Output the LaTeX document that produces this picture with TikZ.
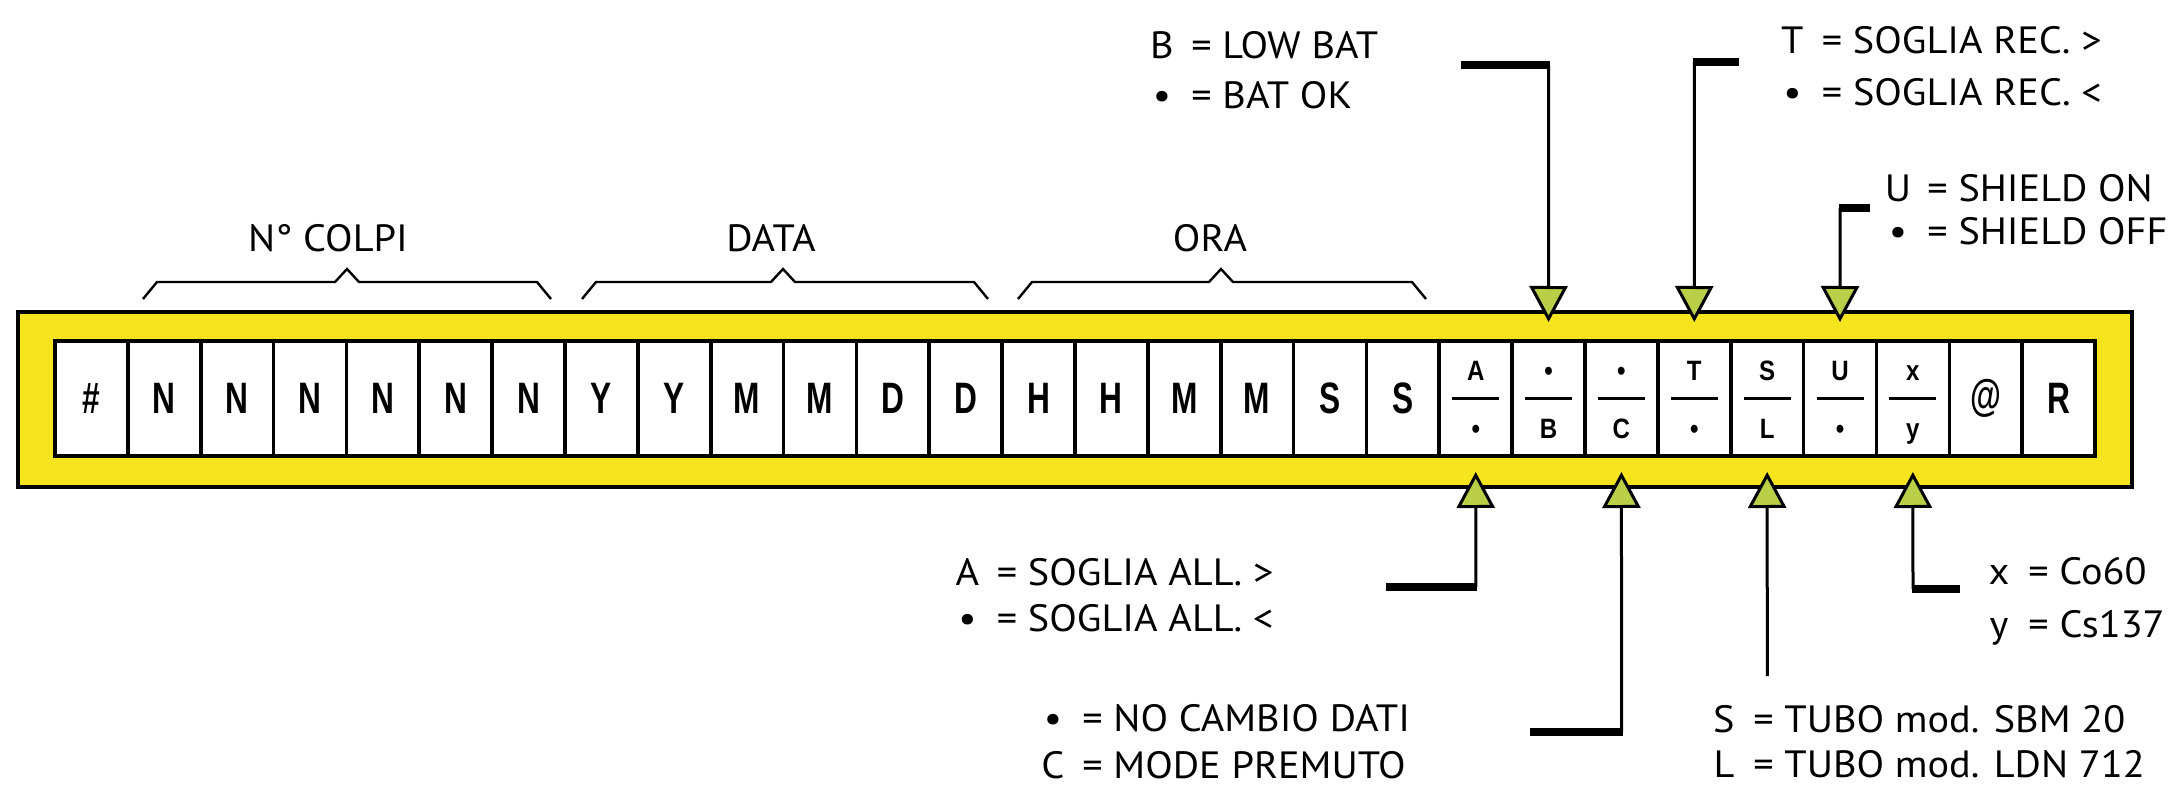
\documentclass[tikz,border=0pt]{standalone}
\usepackage{fontspec}
\setmainfont{PT Sans}[FakeStretch=1.06]
\newfontfamily\cellfont{Liberation Sans}[FakeStretch=0.72]
\newfontfamily\smallfont{Liberation Sans}[FakeStretch=0.86]
\usetikzlibrary{arrows.meta}
\definecolor{yel}{RGB}{245,228,30}
\definecolor{tri}{RGB}{186,206,72}
\newcommand{\lcbox}[1]{\makebox[12.5pt][c]{#1}\hspace{8.5pt}}
\newcommand{\dotc}{\textbullet}
\begin{document}
\begin{tikzpicture}[x=0.5pt,y=-0.5pt,
  lbl/.style={inner sep=0pt, anchor=base west, font=\fontsize{19}{19}\selectfont},
  ttl/.style={inner sep=0pt, anchor=base, font=\fontsize{19}{19}\selectfont},
  cellbox/.style={draw=black, line width=1.8pt, fill=white, minimum width=36.43pt, minimum height=57.5pt, inner sep=0pt, font=\cellfont\bfseries\fontsize{22}{22}\selectfont},
  small/.style={inner sep=0pt, anchor=base, font=\smallfont\bfseries\fontsize{14}{14}\selectfont},
  brace/.style={line width=1.2pt, line join=miter},
  stem/.style={line width=1.5pt, -{Triangle[width=19pt,length=18pt,fill=tri]}},
  bar/.style={line width=4pt, line cap=butt}]

\useasboundingbox (0,0) rectangle (2169,791);
\fill[white] (0,0) rectangle (2169,791);

% frame
\node[draw=black, line width=2pt, fill=yel, minimum width=1057pt, minimum height=87.5pt, inner sep=0pt] (frame) at (1075,399.5) {};

% plain cells
\foreach \t [count=\i from 0] in {\#,N,N,N,N,N,N,Y,Y,M,M,D,D,H,H,M,M,S,S} {
  \node[cellbox] (c\i) at ({55+72.857*(\i+0.5)},398.5) {\t};
}
% fraction cells
\foreach \tp/\bt [count=\i from 19] in {A/\dotc,\dotc/B,\dotc/C,T/\dotc,S/L,U/\dotc,x/y} {
  \node[cellbox] (c\i) at ({55+72.857*(\i+0.5)},398.5) {};
  \node[small] (t\i) at ([yshift=9.25pt]c\i.center) {\tp};
  \node[small] (b\i) at ([yshift=-19.75pt]c\i.center) {\bt};
  \draw[line width=1.4pt] ([xshift=-11.75pt]c\i.center) -- ([xshift=11.75pt]c\i.center);
}
\node[cellbox] (c26) at ({55+72.857*26.5},398.5) {@};
\node[cellbox] (c27) at ({55+72.857*27.5},398.5) {R};

% braces and titles
\draw[brace] (143,299) -- (157,282) -- (335,282) -- (347,269) -- (359,282) -- (537,282) -- (551,299);
\draw[brace] (582,299) -- (596,282) -- (771,282) -- (783,269) -- (795,282) -- (974,282) -- (988,299);
\draw[brace] (1018,299) -- (1032,282) -- (1209,282) -- (1221,269) -- (1233,282) -- (1412,282) -- (1426,299);
\node[ttl] (tN) at (328,252) {N° COLPI};
\node[ttl] (tD) at (771,252) {DATA};
\node[ttl] (tO) at (1210,252) {ORA};

% labels
\node[lbl] (lB1) at (1149,58.5) {\lcbox{B}= LOW BAT};
\node[lbl] (lB2) at (1149,108.5) {\lcbox{\dotc}= BAT OK};
\node[lbl] (lT1) at (1779.5,53.5) {\lcbox{T}= SOGLIA REC. >};
\node[lbl] (lT2) at (1779.5,105.5) {\lcbox{\dotc}= SOGLIA REC. <};
\node[lbl] (lU1) at (1885,201.5) {\lcbox{U}= SHIELD ON};
\node[lbl] (lU2) at (1885,244.5) {\lcbox{\dotc}= SHIELD OFF};
\node[lbl] (lA1) at (954.5,585.5) {\lcbox{A}= SOGLIA ALL. >};
\node[lbl] (lA2) at (954.5,631.5) {\lcbox{\dotc}= SOGLIA ALL. <};
\node[lbl] (lC1) at (1040,731.5) {\lcbox{\dotc}= NO CAMBIO DATI};
\node[lbl] (lC2) at (1040,778.5) {\lcbox{C}= MODE PREMUTO};
\node[lbl] (lS1) at (1711,732.5) {\lcbox{S}= TUBO mod. SBM 20};
\node[lbl] (lS2) at (1711,777.5) {\lcbox{L}= TUBO mod. LDN 712};
\node[lbl] (lX1) at (1986,584.5) {\lcbox{x}= Co60};
\node[lbl] (lX2) at (1986,637.5) {\lcbox{y}= Cs137};

% connectors
\coordinate (tipD) at (0,322);
\coordinate (tipU) at (0,472);
\coordinate (kB) at (1461,65);   \coordinate (jB) at (1548.7,65);
\coordinate (jT) at (1694.4,62); \coordinate (kT) at (1739,62);
\coordinate (jU) at (1840.1,208); \coordinate (kU) at (1870,208);
\coordinate (kA) at (1386,587);  \coordinate (jA) at (1475.8,587);
\coordinate (kC) at (1530,732);  \coordinate (jC) at (1621.6,732);
\coordinate (jS) at (1767.3,676);
\coordinate (jX) at (1913,589);  \coordinate (kX) at (1960,589);

\draw[bar] (kB) -- ([xshift=0.75pt]jB);
\draw[bar] ([xshift=-0.75pt]jT) -- (kT);
\draw[bar] ([xshift=-0.75pt]jU) -- (kU);
\draw[bar] (kA) -- ([xshift=0.75pt]jA);
\draw[bar] (kC) -- ([xshift=0.75pt]jC);
\draw[bar] ([xshift=-0.75pt]jX) -- (kX);

\draw[stem] (jB) -- (c20 |- tipD);
\draw[stem] (jT) -- (c22 |- tipD);
\draw[stem] (jU) -- (c24 |- tipD);
\draw[stem] (jA) -- (c19 |- tipU);
\draw[stem] (jC) -- (c21 |- tipU);
\draw[stem] (jS) -- (c23 |- tipU);
\draw[stem] (jX) -- (c25 |- tipU);
\end{tikzpicture}
\end{document}
